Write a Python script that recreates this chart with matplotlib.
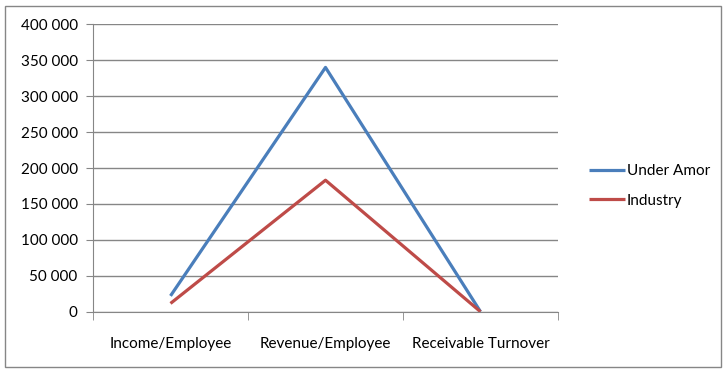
import numpy as np
import matplotlib.pyplot as plt
from matplotlib.ticker import FuncFormatter
from matplotlib.patches import Rectangle

# ============================== Data ==============================
categories = ['Income/Employee', 'Revenue/Employee', 'Receivable Turnover']
under_amor = [22000, 340000, 0]
industry = [11500, 183000, 0]

blue = '#4a7ebb'
red = '#be4b48'
grid_col = '#868686'

plt.rcParams['font.family'] = ['Lato', 'DejaVu Sans']
plt.rcParams['font.size'] = 11

fig = plt.figure(figsize=(7.27, 3.73), dpi=100)
W, H = 727, 373
ax = fig.add_axes([93 / W, 1 - 311.7 / H, (558 - 93) / W, (311.7 - 24.3) / H])

x = np.arange(len(categories))
ax.plot(x, under_amor, color=blue, lw=2.3, label='Under Amor', solid_capstyle='butt')
ax.plot(x, industry, color=red, lw=2.3, label='Industry', solid_capstyle='butt')

ax.set_xlim(-0.5, len(categories) - 0.5)
ax.set_ylim(0, 400000)
ax.set_yticks(np.arange(0, 400001, 50000))
ax.yaxis.set_major_formatter(FuncFormatter(lambda v, p: '{:,.0f}'.format(v).replace(',', ' ')))
ax.yaxis.grid(True, color=grid_col, lw=1)
ax.set_axisbelow(True)

ax.set_xticks(x)
ax.set_xticklabels(categories)
ax.set_xticks(np.arange(-0.5, len(categories)), minor=True)
ax.tick_params(axis='x', which='major', length=0, pad=18)
ax.tick_params(axis='x', which='minor', length=6, color=grid_col)
ax.tick_params(axis='y', length=5, color=grid_col, pad=6)

for s in ['top', 'right']:
    ax.spines[s].set_visible(False)
for s in ['left', 'bottom']:
    ax.spines[s].set_color(grid_col)

ax.legend(loc='center left', frameon=False,
          handlelength=2.4, handletextpad=0.1, labelspacing=1.0)
leg = ax.get_legend()
leg.set_bbox_to_anchor((575 / W, 1 - 186 / H), transform=fig.transFigure)

fig.patches.append(Rectangle((5 / W, 1 - 367 / H), 716 / W, 361 / H, transform=fig.transFigure,
                             fill=False, edgecolor=grid_col, lw=1))

plt.savefig('out.png', dpi=100)
